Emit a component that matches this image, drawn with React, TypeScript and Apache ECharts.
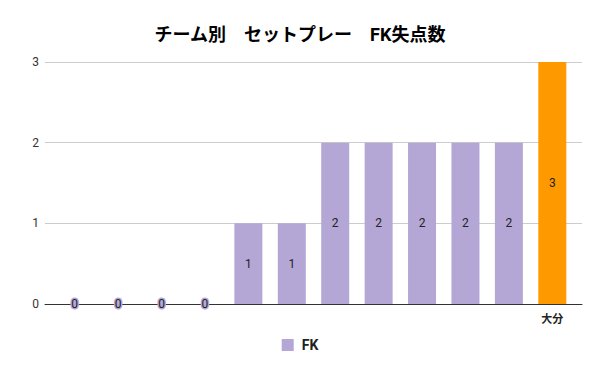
import React, { useEffect, useRef } from "react";
import * as echarts from "echarts";

const title = "チーム別　セットプレー　FK失点数";
const seriesName = "FK";
const categories = ["", "", "", "", "", "", "", "", "", "", "", "大分"];
const values = [0, 0, 0, 0, 1, 1, 2, 2, 2, 2, 2, 3];
const highlight = [false, false, false, false, false, false, false, false, false, false, false, true];
const yTicks = [0, 1, 2, 3];

const PURPLE = "#b4a7d6";
const ORANGE = "#ff9900";
const FONT = "Roboto, 'Noto Sans CJK JP', sans-serif";

export default function App() {
  const ref = useRef<HTMLDivElement>(null);
  useEffect(() => {
    document.body.style.margin = "0";
    if (!ref.current) return;
    const chart = echarts.init(ref.current, null, { renderer: "svg" });
    const yMax = yTicks[yTicks.length - 1];
    chart.setOption({
      animation: false,
      textStyle: { fontFamily: FONT },
      title: {
        text: title,
        left: "center",
        top: 20,
        textStyle: { fontSize: 18, fontWeight: "bold", color: "#000", fontFamily: FONT },
      },
      legend: {
        bottom: 14,
        left: "center",
        itemWidth: 12,
        itemHeight: 12,
        itemGap: 10,
        icon: "rect",
        data: [{ name: seriesName, itemStyle: { color: PURPLE } }],
        textStyle: { fontSize: 14, fontWeight: "bold", color: "#222", fontFamily: FONT, padding: [0, 0, 0, 3] },
      },
      grid: [
        { left: 45, right: 18, top: 62, bottom: 67 },
        { left: 53, right: 26, top: 62, bottom: 67 },
      ],
      xAxis: [
        {
          type: "value",
          gridIndex: 0,
          min: 0,
          max: 1,
          axisLine: { show: true, onZero: false, lineStyle: { color: "#333", width: 1 } },
          axisTick: { show: false },
          axisLabel: { show: false },
          splitLine: { show: false },
        },
        {
          type: "category",
          gridIndex: 1,
          data: categories,
          axisLine: { show: false },
          axisTick: { show: false },
          axisLabel: {
            interval: 0,
            margin: 10,
            fontSize: 11,
            fontWeight: "bold",
            color: "#222",
            fontFamily: FONT,
          },
        },
      ],
      yAxis: [
        {
          type: "value",
          gridIndex: 0,
          min: 0,
          max: yMax,
          interval: 1,
          axisLine: { show: false },
          axisTick: { show: false },
          axisLabel: { margin: 6, fontSize: 12, color: "#333", fontFamily: FONT },
          splitLine: { lineStyle: { color: "#cccccc", width: 1 } },
        },
        {
          type: "value",
          gridIndex: 1,
          min: 0,
          max: yMax,
          interval: 1,
          axisLine: { show: false },
          axisTick: { show: false },
          axisLabel: { show: false },
          splitLine: { show: false },
        },
      ],
      series: [
        {
          name: seriesName,
          type: "bar",
          xAxisIndex: 1,
          yAxisIndex: 1,
          barWidth: 28,
          itemStyle: { color: PURPLE },
          label: {
            show: true,
            position: "inside",
            fontSize: 12,
            color: "#222",
            fontFamily: FONT,
            textBorderColor: PURPLE,
            textBorderWidth: 3,
          },
          data: values.map((v, i) =>
            highlight[i]
              ? { value: v, itemStyle: { color: ORANGE }, label: { textBorderColor: ORANGE } }
              : { value: v }
          ),
        },
      ],
    });
    return () => chart.dispose();
  }, []);
  return <div ref={ref} style={{ width: 600, height: 371 }} />;
}
